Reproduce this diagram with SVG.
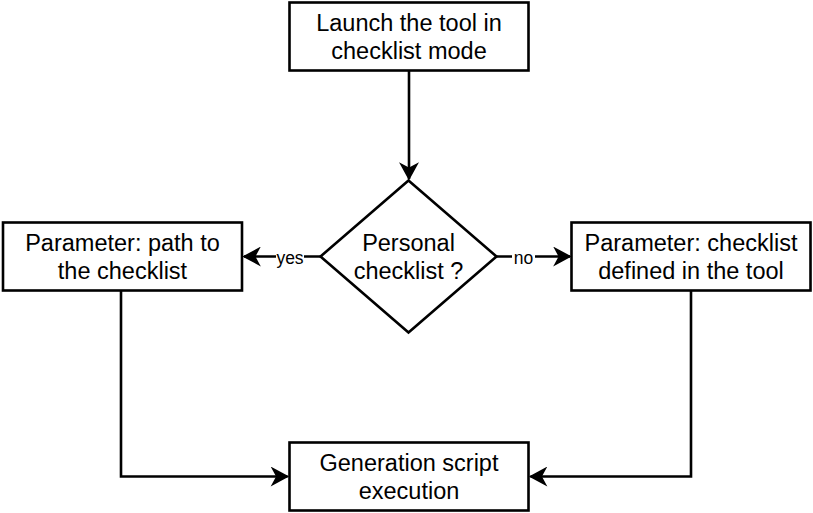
<svg xmlns="http://www.w3.org/2000/svg" width="813" height="513" viewBox="0 0 813 513">
<style>
.box{fill:#fff;stroke:#000;stroke-width:2.6}
.t{font-family:"Liberation Sans",Arial,Helvetica,sans-serif;font-size:23.5px;fill:#000;text-anchor:middle}
.lbl{font-family:"Liberation Sans",Arial,Helvetica,sans-serif;font-size:17.5px;fill:#000;text-anchor:middle}
.edge{fill:none;stroke:#000;stroke-width:2.6;marker-end:url(#arr)}
</style>
<defs>
<marker id="arr" markerUnits="userSpaceOnUse" markerWidth="20" markerHeight="20" viewBox="-14 -8 16 16" refX="0" refY="0" orient="auto">
<path d="M0,0 L-12,-6.5 L-8.5,0 L-12,6.5 Z" fill="#000" stroke="#000" stroke-width="1.2" stroke-linejoin="miter"/>
</marker>
</defs>
<rect width="813" height="513" fill="#fff"/>
<g id="connectors">
<path class="edge" d="M409,70.5 L409,179"/>
<path class="edge" d="M320.5,256.5 L244,256.5"/>
<path class="edge" d="M496.5,256.5 L570,256.5"/>
<path class="edge" d="M121,290.5 L121,476.5 L287.5,476.5"/>
<path class="edge" d="M691,290.5 L691,476.5 L530.5,476.5"/>
<rect x="276" y="247" width="28" height="20" fill="#fff"/>
<text class="lbl" x="290" y="263.5">yes</text>
<rect x="512" y="247" width="23" height="20" fill="#fff"/>
<text class="lbl" x="523.5" y="263.5">no</text>
</g>
<g id="launch">
<rect class="box" x="289.5" y="2.5" width="239" height="68"/>
<text class="t" x="409" y="30.9">Launch the tool in</text>
<text class="t" x="409" y="58.6">checklist mode</text>
</g>
<g id="decision">
<polygon class="box" points="408.5,180.5 496.5,256.5 408.5,332.5 320.5,256.5"/>
<text class="t" x="408.5" y="250.9">Personal</text>
<text class="t" x="408.5" y="278.6">checklist ?</text>
</g>
<g id="path-param">
<rect class="box" x="3" y="222.5" width="239" height="68"/>
<text class="t" x="122.5" y="250.9">Parameter: path to</text>
<text class="t" x="122.5" y="278.6">the checklist</text>
</g>
<g id="tool-param">
<rect class="box" x="571.5" y="222.5" width="239" height="68"/>
<text class="t" x="691" y="250.9">Parameter: checklist</text>
<text class="t" x="691" y="278.6">defined in the tool</text>
</g>
<g id="generation">
<rect class="box" x="289.5" y="442.5" width="239" height="68"/>
<text class="t" x="409" y="470.9">Generation script</text>
<text class="t" x="409" y="498.6">execution</text>
</g>
</svg>
